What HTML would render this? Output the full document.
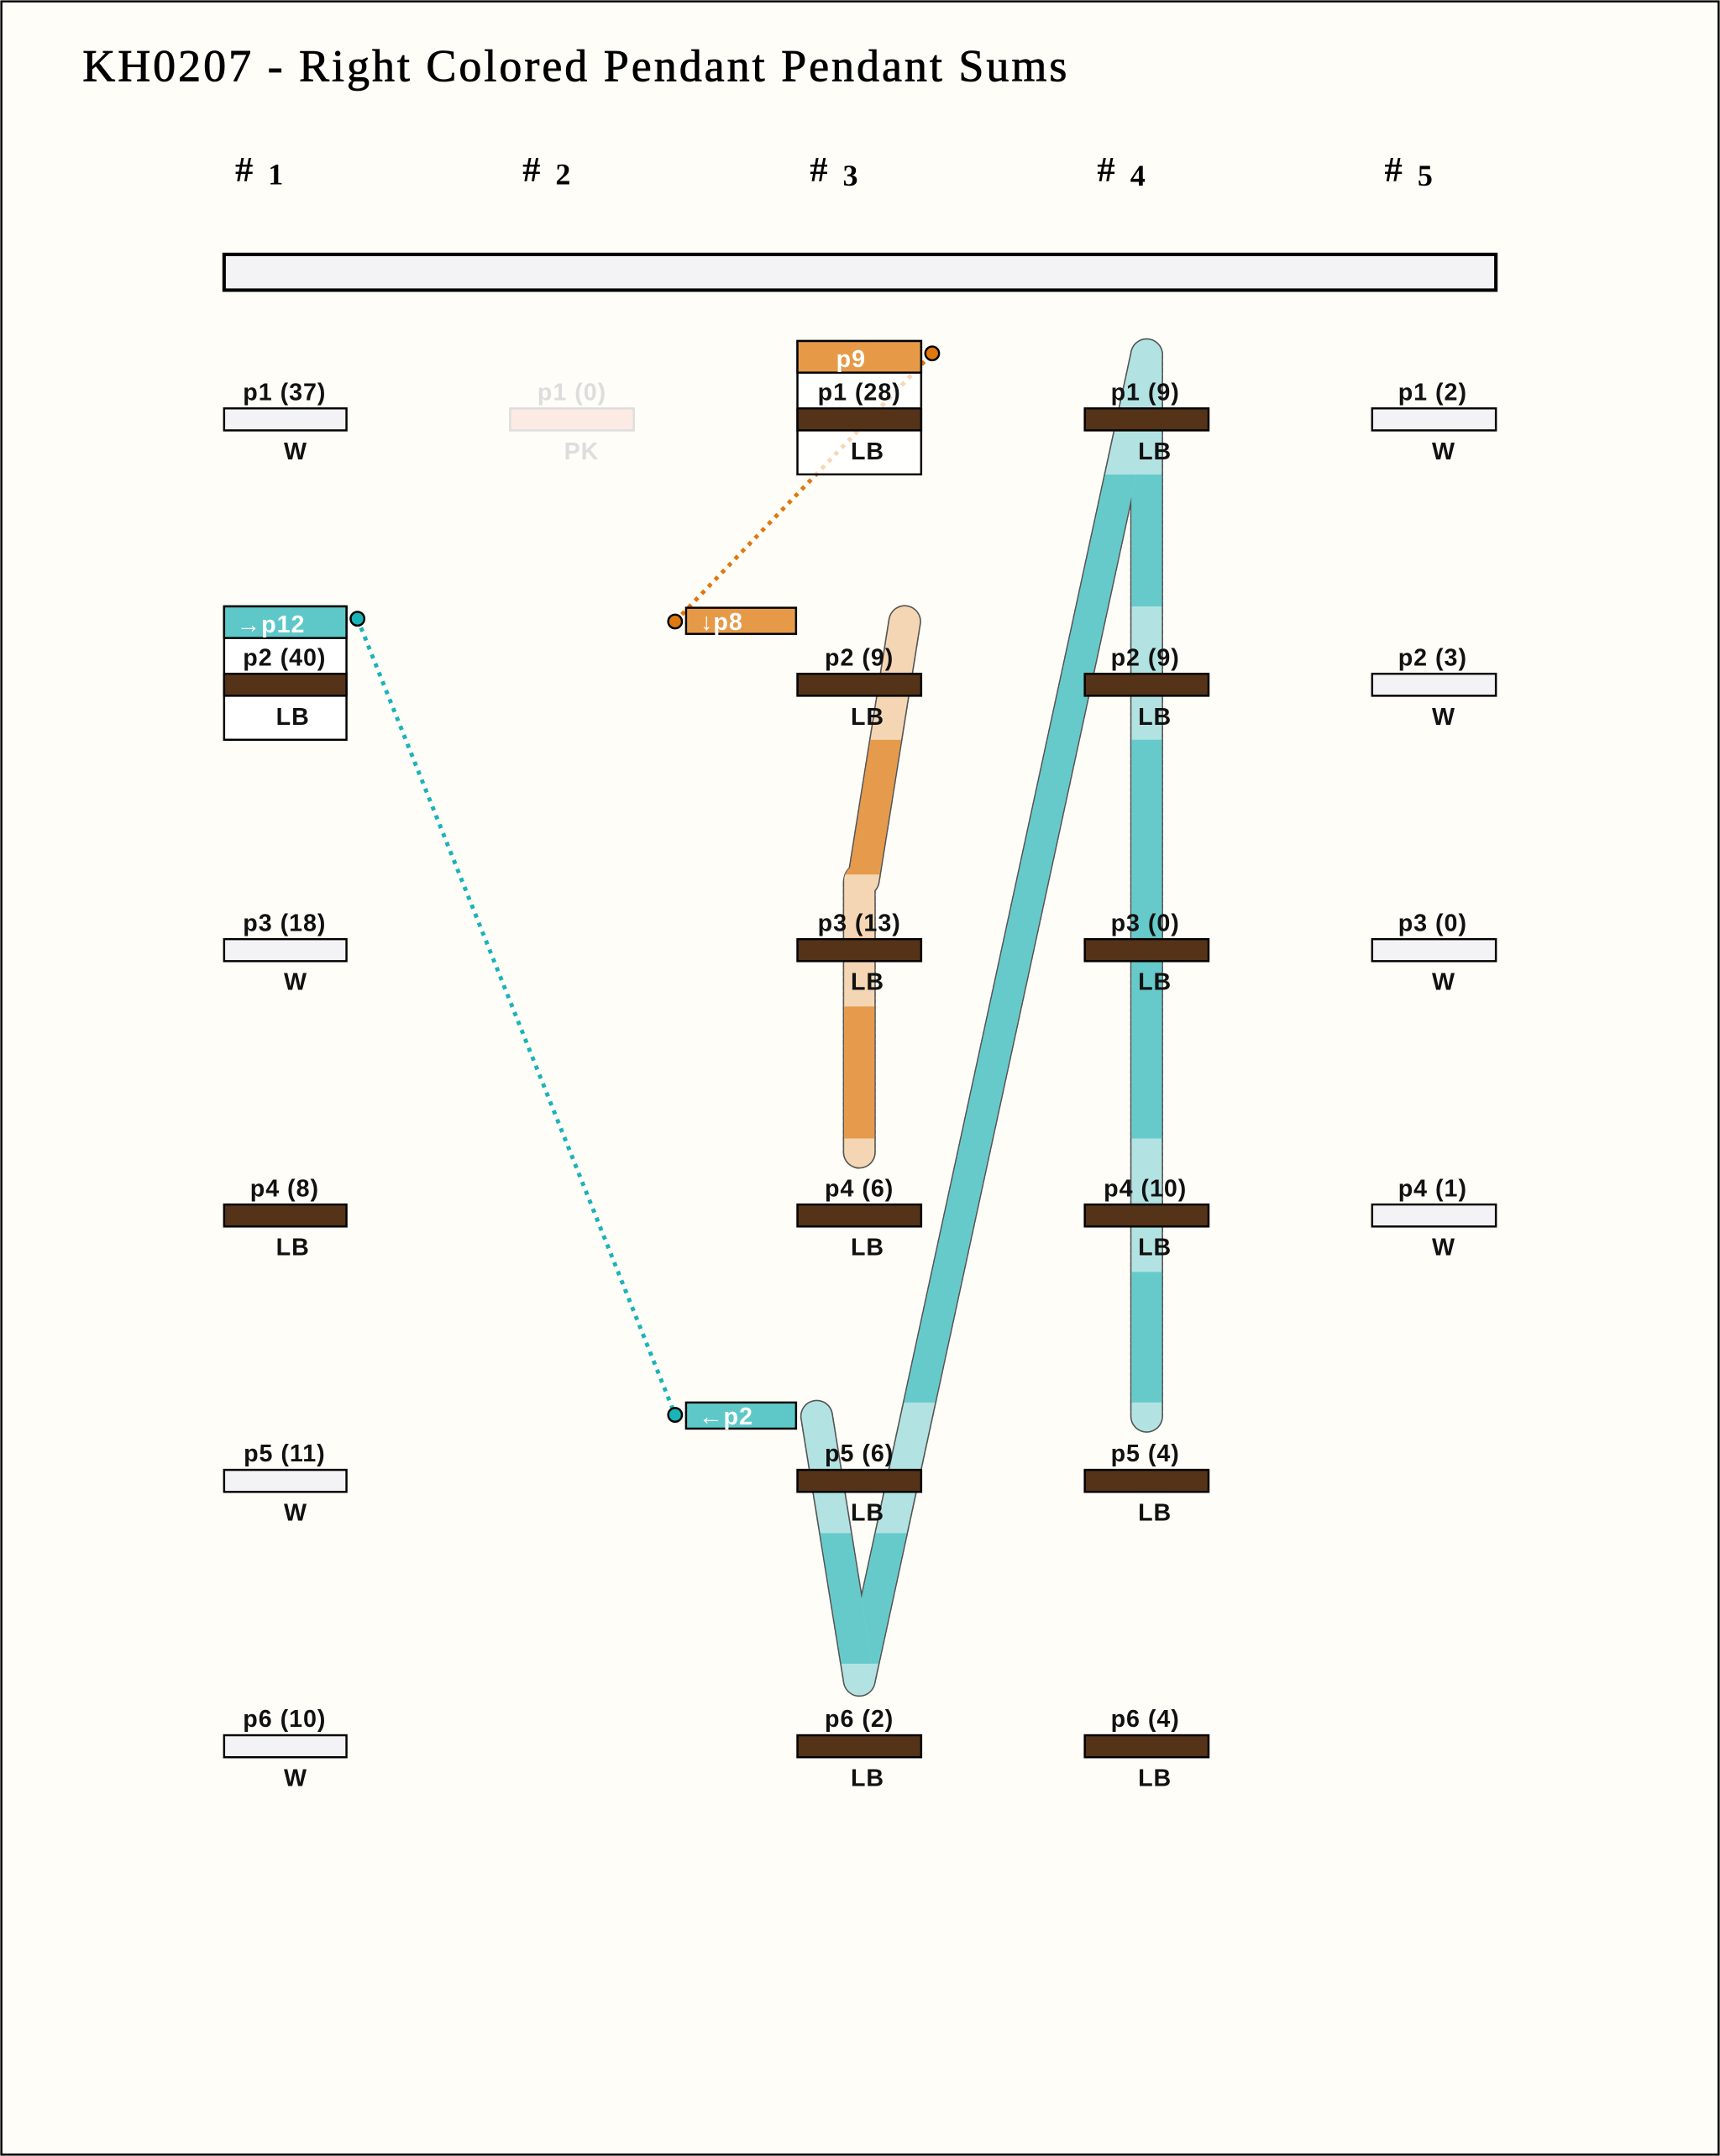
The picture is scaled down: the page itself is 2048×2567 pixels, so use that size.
<!DOCTYPE html>
<html><head><meta charset="utf-8"><style>
html,body{margin:0;padding:0;background:#fefdf7;}
svg{display:block}
.l{font-family:"Liberation Sans","DejaVu Sans",sans-serif;font-weight:bold;font-size:17.5px;letter-spacing:0.6px;fill:#111;text-anchor:middle}
</style></head><body>
<svg width="2048" height="2567" viewBox="0 0 1251 1568" xmlns="http://www.w3.org/2000/svg">
<defs>
<clipPath id="cd"><rect x="0" y="345" width="1251" height="96"/><rect x="0" y="538" width="1251" height="290"/><rect x="0" y="925" width="1251" height="95"/></clipPath>
<clipPath id="cdg"><rect x="0" y="345" width="1251" height="675"/><rect x="0" y="1115" width="1251" height="95"/></clipPath>
<clipPath id="cs"><rect x="0" y="1115" width="1251" height="95"/></clipPath>
<clipPath id="co"><rect x="0" y="538" width="1251" height="98"/><rect x="0" y="732" width="1251" height="96"/></clipPath>
</defs>
<rect x="1" y="1" width="1249" height="1566" fill="#fefdf7" stroke="#000" stroke-width="1.5"/>
<text x="60" y="59" font-family="Liberation Serif,serif" font-size="33" fill="#000" stroke="#000" stroke-width="0.5" textLength="716">KH0207 - Right Colored Pendant Pendant Sums</text>
<g font-family="Liberation Serif,serif" font-size="26" font-weight="bold" fill="#000">
<text x="171" y="132">#</text><text x="195" y="134" font-size="22">1</text>
<text x="380" y="132">#</text><text x="404" y="134" font-size="22">2</text>
<text x="589" y="132">#</text><text x="613" y="135" font-size="22">3</text>
<text x="798" y="132">#</text><text x="822" y="135" font-size="22">4</text>
<text x="1007" y="132">#</text><text x="1031" y="135" font-size="22">5</text>
</g>
<rect x="163" y="185" width="925" height="26" fill="#f3f3f5" stroke="#000" stroke-width="2.5"/>

<g fill="none" stroke-linecap="round" stroke-linejoin="round">
<g stroke="#555" stroke-width="24" stroke-dasharray="3 2">
<path d="M658,452 L628,640 L625,640 L625,838"/>
<path d="M834,258 L834,1030"/>
<path d="M834,258 L625,1222 L594,1030"/>
</g>
<g stroke-width="22">
<path d="M658,452 L628,640 L625,640 L625,838" stroke="#f5d6b4"/>
<path d="M658,452 L628,640 L625,640 L625,838" stroke="#e69a4b" clip-path="url(#co)"/>
<path d="M834,258 L834,1030" stroke="#b2e3e2"/>
<path d="M834,258 L834,1030" stroke="#66cacb" clip-path="url(#cd)"/>
<path d="M834,258 L625,1222" stroke="#b2e3e2"/>
<path d="M834,258 L625,1222" stroke="#66cacb" clip-path="url(#cdg)"/>
<path d="M625,1222 L594,1030" stroke="#b2e3e2"/>
<path d="M625,1222 L594,1030" stroke="#66cacb" clip-path="url(#cs)"/>
</g>
</g>

<line x1="491" y1="452" x2="678" y2="257" stroke="#e07810" stroke-width="3" stroke-dasharray="3 4"/>
<line x1="260" y1="450" x2="491" y2="1029" stroke="#1ab3b8" stroke-width="3" stroke-dasharray="3 4"/>

<!-- col1 -->
<rect x="163" y="297" width="89" height="16" fill="#f3f3f5" stroke="#000" stroke-width="1.5"/>
<text class="l" x="207" y="291">p1 (37)</text><text class="l" x="215" y="334">W</text>
<rect x="163" y="441" width="89" height="97" fill="#fff" stroke="#000" stroke-width="1.5"/>
<rect x="163" y="441" width="89" height="23" fill="#5ec8c9" stroke="#000" stroke-width="1.5"/>
<rect x="163" y="490" width="89" height="16" fill="#553318" stroke="#000" stroke-width="1.5"/>
<text class="l" x="197" y="460" style="fill:#fff">→p12</text>
<text class="l" x="207" y="484">p2 (40)</text><text class="l" x="213" y="527">LB</text>
<circle cx="260" cy="450" r="5" fill="#1ab3b8" stroke="#000" stroke-width="1.5"/>
<rect x="163" y="683" width="89" height="16" fill="#f3f3f5" stroke="#000" stroke-width="1.5"/>
<text class="l" x="207" y="677">p3 (18)</text><text class="l" x="215" y="720">W</text>
<rect x="163" y="876" width="89" height="16" fill="#553318" stroke="#000" stroke-width="1.5"/>
<text class="l" x="207" y="870">p4 (8)</text><text class="l" x="213" y="913">LB</text>
<rect x="163" y="1069" width="89" height="16" fill="#f3f3f5" stroke="#000" stroke-width="1.5"/>
<text class="l" x="207" y="1063">p5 (11)</text><text class="l" x="215" y="1106">W</text>
<rect x="163" y="1262" width="89" height="16" fill="#f3f3f5" stroke="#000" stroke-width="1.5"/>
<text class="l" x="207" y="1256">p6 (10)</text><text class="l" x="215" y="1299">W</text>

<!-- col2 -->
<rect x="371" y="297" width="90" height="16" fill="#fcebe5" stroke="#ddd" stroke-width="1.5"/>
<text class="l" x="416" y="291" style="fill:#ddd">p1 (0)</text><text class="l" x="423" y="334" style="fill:#ddd">PK</text>
<rect x="499" y="442" width="80" height="19" fill="#e69a48" stroke="#000" stroke-width="1.5"/>
<text class="l" x="525" y="458" style="fill:#fff">↓p8</text>
<circle cx="491" cy="452" r="5" fill="#e07810" stroke="#000" stroke-width="1.5"/>
<rect x="499" y="1020" width="80" height="19" fill="#5ec8c9" stroke="#000" stroke-width="1.5"/>
<text class="l" x="528" y="1036" style="fill:#fff">←p2</text>
<circle cx="491" cy="1029" r="5" fill="#1ab3b8" stroke="#000" stroke-width="1.5"/>

<!-- col3 -->
<rect x="580" y="248" width="90" height="97" fill="#fff" fill-opacity="0.7" stroke="#000" stroke-width="1.5"/>
<rect x="580" y="248" width="90" height="23" fill="#e69a48" stroke="#000" stroke-width="1.5"/>
<rect x="580" y="297" width="90" height="16" fill="#553318" stroke="#000" stroke-width="1.5"/>
<text class="l" x="619" y="267" style="fill:#fff">p9</text>
<text class="l" x="625" y="291">p1 (28)</text><text class="l" x="631" y="334">LB</text>
<circle cx="678" cy="257" r="5" fill="#e07810" stroke="#000" stroke-width="1.5"/>
<g fill="#553318" stroke="#000" stroke-width="1.5">
<rect x="580" y="490" width="90" height="16"/><rect x="580" y="683" width="90" height="16"/>
<rect x="580" y="876" width="90" height="16"/><rect x="580" y="1069" width="90" height="16"/>
<rect x="580" y="1262" width="90" height="16"/>
</g>
<text class="l" x="625" y="484">p2 (9)</text><text class="l" x="631" y="527">LB</text>
<text class="l" x="625" y="677">p3 (13)</text><text class="l" x="631" y="720">LB</text>
<text class="l" x="625" y="870">p4 (6)</text><text class="l" x="631" y="913">LB</text>
<text class="l" x="625" y="1063">p5 (6)</text><text class="l" x="631" y="1106">LB</text>
<text class="l" x="625" y="1256">p6 (2)</text><text class="l" x="631" y="1299">LB</text>

<!-- col4 -->
<g fill="#553318" stroke="#000" stroke-width="1.5">
<rect x="789" y="297" width="90" height="16"/><rect x="789" y="490" width="90" height="16"/>
<rect x="789" y="683" width="90" height="16"/><rect x="789" y="876" width="90" height="16"/>
<rect x="789" y="1069" width="90" height="16"/><rect x="789" y="1262" width="90" height="16"/>
</g>
<text class="l" x="833" y="291">p1 (9)</text><text class="l" x="840" y="334">LB</text>
<text class="l" x="833" y="484">p2 (9)</text><text class="l" x="840" y="527">LB</text>
<text class="l" x="833" y="677">p3 (0)</text><text class="l" x="840" y="720">LB</text>
<text class="l" x="833" y="870">p4 (10)</text><text class="l" x="840" y="913">LB</text>
<text class="l" x="833" y="1063">p5 (4)</text><text class="l" x="840" y="1106">LB</text>
<text class="l" x="833" y="1256">p6 (4)</text><text class="l" x="840" y="1299">LB</text>

<!-- col5 -->
<g fill="#f3f3f5" stroke="#000" stroke-width="1.5">
<rect x="998" y="297" width="90" height="16"/><rect x="998" y="490" width="90" height="16"/>
<rect x="998" y="683" width="90" height="16"/><rect x="998" y="876" width="90" height="16"/>
</g>
<text class="l" x="1042" y="291">p1 (2)</text><text class="l" x="1050" y="334">W</text>
<text class="l" x="1042" y="484">p2 (3)</text><text class="l" x="1050" y="527">W</text>
<text class="l" x="1042" y="677">p3 (0)</text><text class="l" x="1050" y="720">W</text>
<text class="l" x="1042" y="870">p4 (1)</text><text class="l" x="1050" y="913">W</text>
</svg>
</body></html>
